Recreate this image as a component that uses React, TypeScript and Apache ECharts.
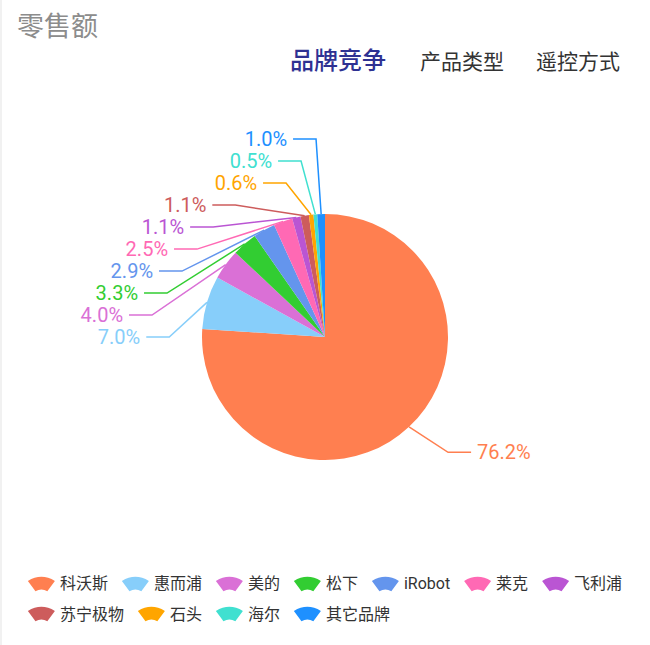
import React, { useEffect, useRef } from 'react';
import * as echarts from 'echarts';

// 零售额 - 品牌竞争
const brands = ['科沃斯', '惠而浦', '美的', '松下', 'iRobot', '莱克', '飞利浦', '苏宁极物', '石头', '海尔', '其它品牌'];
const shares = [76.2, 7.0, 4.0, 3.3, 2.9, 2.5, 1.1, 1.1, 0.6, 0.5, 1.0];
const colors = ['#ff7f50', '#87cefa', '#da70d6', '#32cd32', '#6495ed', '#ff69b4', '#ba55d3', '#cd5c5c', '#ffa500', '#40e0d0', '#1e90ff'];
const tabs = ['品牌竞争', '产品类型', '遥控方式'];

const fanIcon = 'path://M0,22 Q50,-8 100,22 L72,60 Q50,48 28,60 Z';
const fontFamily = 'Roboto, "Noto Sans CJK SC", sans-serif';

// pie geometry + label placement (old style: labels sit on a circle, stepped outward)
const CX = 325;
const CY = 337;
const RADIUS = 123;
const LINE_LEN = 35;
const LINE_LEN2 = 23;
const TEXT_GAP = 6;
const ALIGN_R = 185;
const STEP = 15;

type Cached = { rect: { x: number; y: number; width: number; height: number }; anchor: number[] };
const cache: Record<number, Cached> = {};

const computeOffsets = () => {
  const out: Record<number, number> = {};
  const items = Object.keys(cache).map((k) => ({ i: Number(k), ...cache[Number(k)] }));
  [-1, 1].forEach((dir) => {
    const side = items
      .filter((it) => (it.anchor[0] < CX ? -1 : 1) === dir)
      .sort((a, b) => a.rect.y - b.rect.y);
    const up = side.filter((it) => it.rect.y + it.rect.height / 2 < CY);
    const down = side.filter((it) => it.rect.y + it.rect.height / 2 >= CY);
    const cand = (it: any) => {
      const dy = Math.abs(it.rect.y - CY);
      if (dy < RADIUS + LINE_LEN) return Math.sqrt(ALIGN_R * ALIGN_R - dy * dy);
      return (Math.abs(it.anchor[0] - CX) / RADIUS) * (RADIUS + LINE_LEN) + LINE_LEN2 + TEXT_GAP + 4;
    };
    let last = -Infinity;
    up.forEach((it) => {
      const d = Math.max(cand(it), last + STEP);
      out[it.i] = d;
      last = d;
    });
    last = Infinity;
    down.forEach((it) => {
      let d = cand(it);
      if (d >= last) d = last - 10;
      out[it.i] = d;
      last = d;
    });
  });
  return out;
};

const placeLabel = (params: any) => {
  const i = params.dataIndex;
  if (!cache[i] && params.labelLinePoints) {
    const r = params.labelRect;
    cache[i] = { rect: { x: r.x, y: r.y, width: r.width, height: r.height }, anchor: params.labelLinePoints[0].slice() };
  }
  if (Object.keys(cache).length < brands.length) return {};
  const d = computeOffsets()[i];
  const c = cache[i];
  const dir = c.anchor[0] < CX ? -1 : 1;
  const yc = c.rect.y + c.rect.height / 2;
  const x = CX + dir * d;
  const p2x = x - dir * TEXT_GAP;
  const p1x = p2x - dir * LINE_LEN2;
  return {
    x,
    labelLinePoints: [c.anchor, [p1x, yc], [p2x, yc]]
  };
};

const App = () => {
  const chartRef = useRef<HTMLDivElement>(null);

  useEffect(() => {
    document.body.style.margin = '0';
    const myChart = echarts.init(chartRef.current, null, { renderer: 'svg' });

    const option = {
      animation: false,
      color: colors,
      textStyle: { fontFamily },
      title: {
        text: '零售额',
        left: 12,
        top: 8,
        textStyle: { fontSize: 27, fontWeight: 'normal', color: '#8c8c8c', fontFamily }
      },
      graphic: [
        {
          type: 'line',
          shape: { x1: 1, y1: 0, x2: 1, y2: 645 },
          style: { stroke: '#e3e3e3', lineWidth: 1 }
        },
        {
          type: 'text',
          left: 290,
          top: 49,
          style: { text: tabs[0], fontSize: 24, fill: '#2e3192', fontFamily, fontWeight: 500 }
        },
        {
          type: 'text',
          left: 420,
          top: 51,
          style: { text: tabs[1], fontSize: 21, fill: '#333', fontFamily }
        },
        {
          type: 'text',
          left: 536,
          top: 51,
          style: { text: tabs[2], fontSize: 21, fill: '#333', fontFamily }
        }
      ],
      legend: {
        bottom: 18,
        left: 'center',
        icon: fanIcon,
        itemWidth: 27,
        itemHeight: 16,
        itemGap: 14,
        textStyle: { fontSize: 16, color: '#333', fontFamily },
        data: brands
      },
      series: [
        {
          name: '零售额',
          type: 'pie',
          center: [CX, CY],
          radius: RADIUS,
          startAngle: 90,
          avoidLabelOverlap: true,
          label: {
            show: true,
            position: 'outside',
            fontSize: 20,
            lineHeight: 20,
            fontFamily,
            formatter: (p: any) => p.value.toFixed(1) + '%'
          },
          labelLine: { length: 75, length2: LINE_LEN2, lineStyle: { width: 1.5 } },
          labelLayout: placeLabel,
          data: brands.map((name, i) => ({
            name,
            value: shares[i],
            label: { color: colors[i] },
            labelLine: i === 0 ? { length: LINE_LEN, length2: LINE_LEN2 } : undefined
          }))
        }
      ]
    };

    myChart.setOption(option);
    // second pass: every label's stacked position is known now
    myChart.setOption(option, true);

    return () => {
      myChart.dispose();
    };
  }, []);

  return <div ref={chartRef} style={{ width: 650, height: 645 }} />;
};

export default App;
